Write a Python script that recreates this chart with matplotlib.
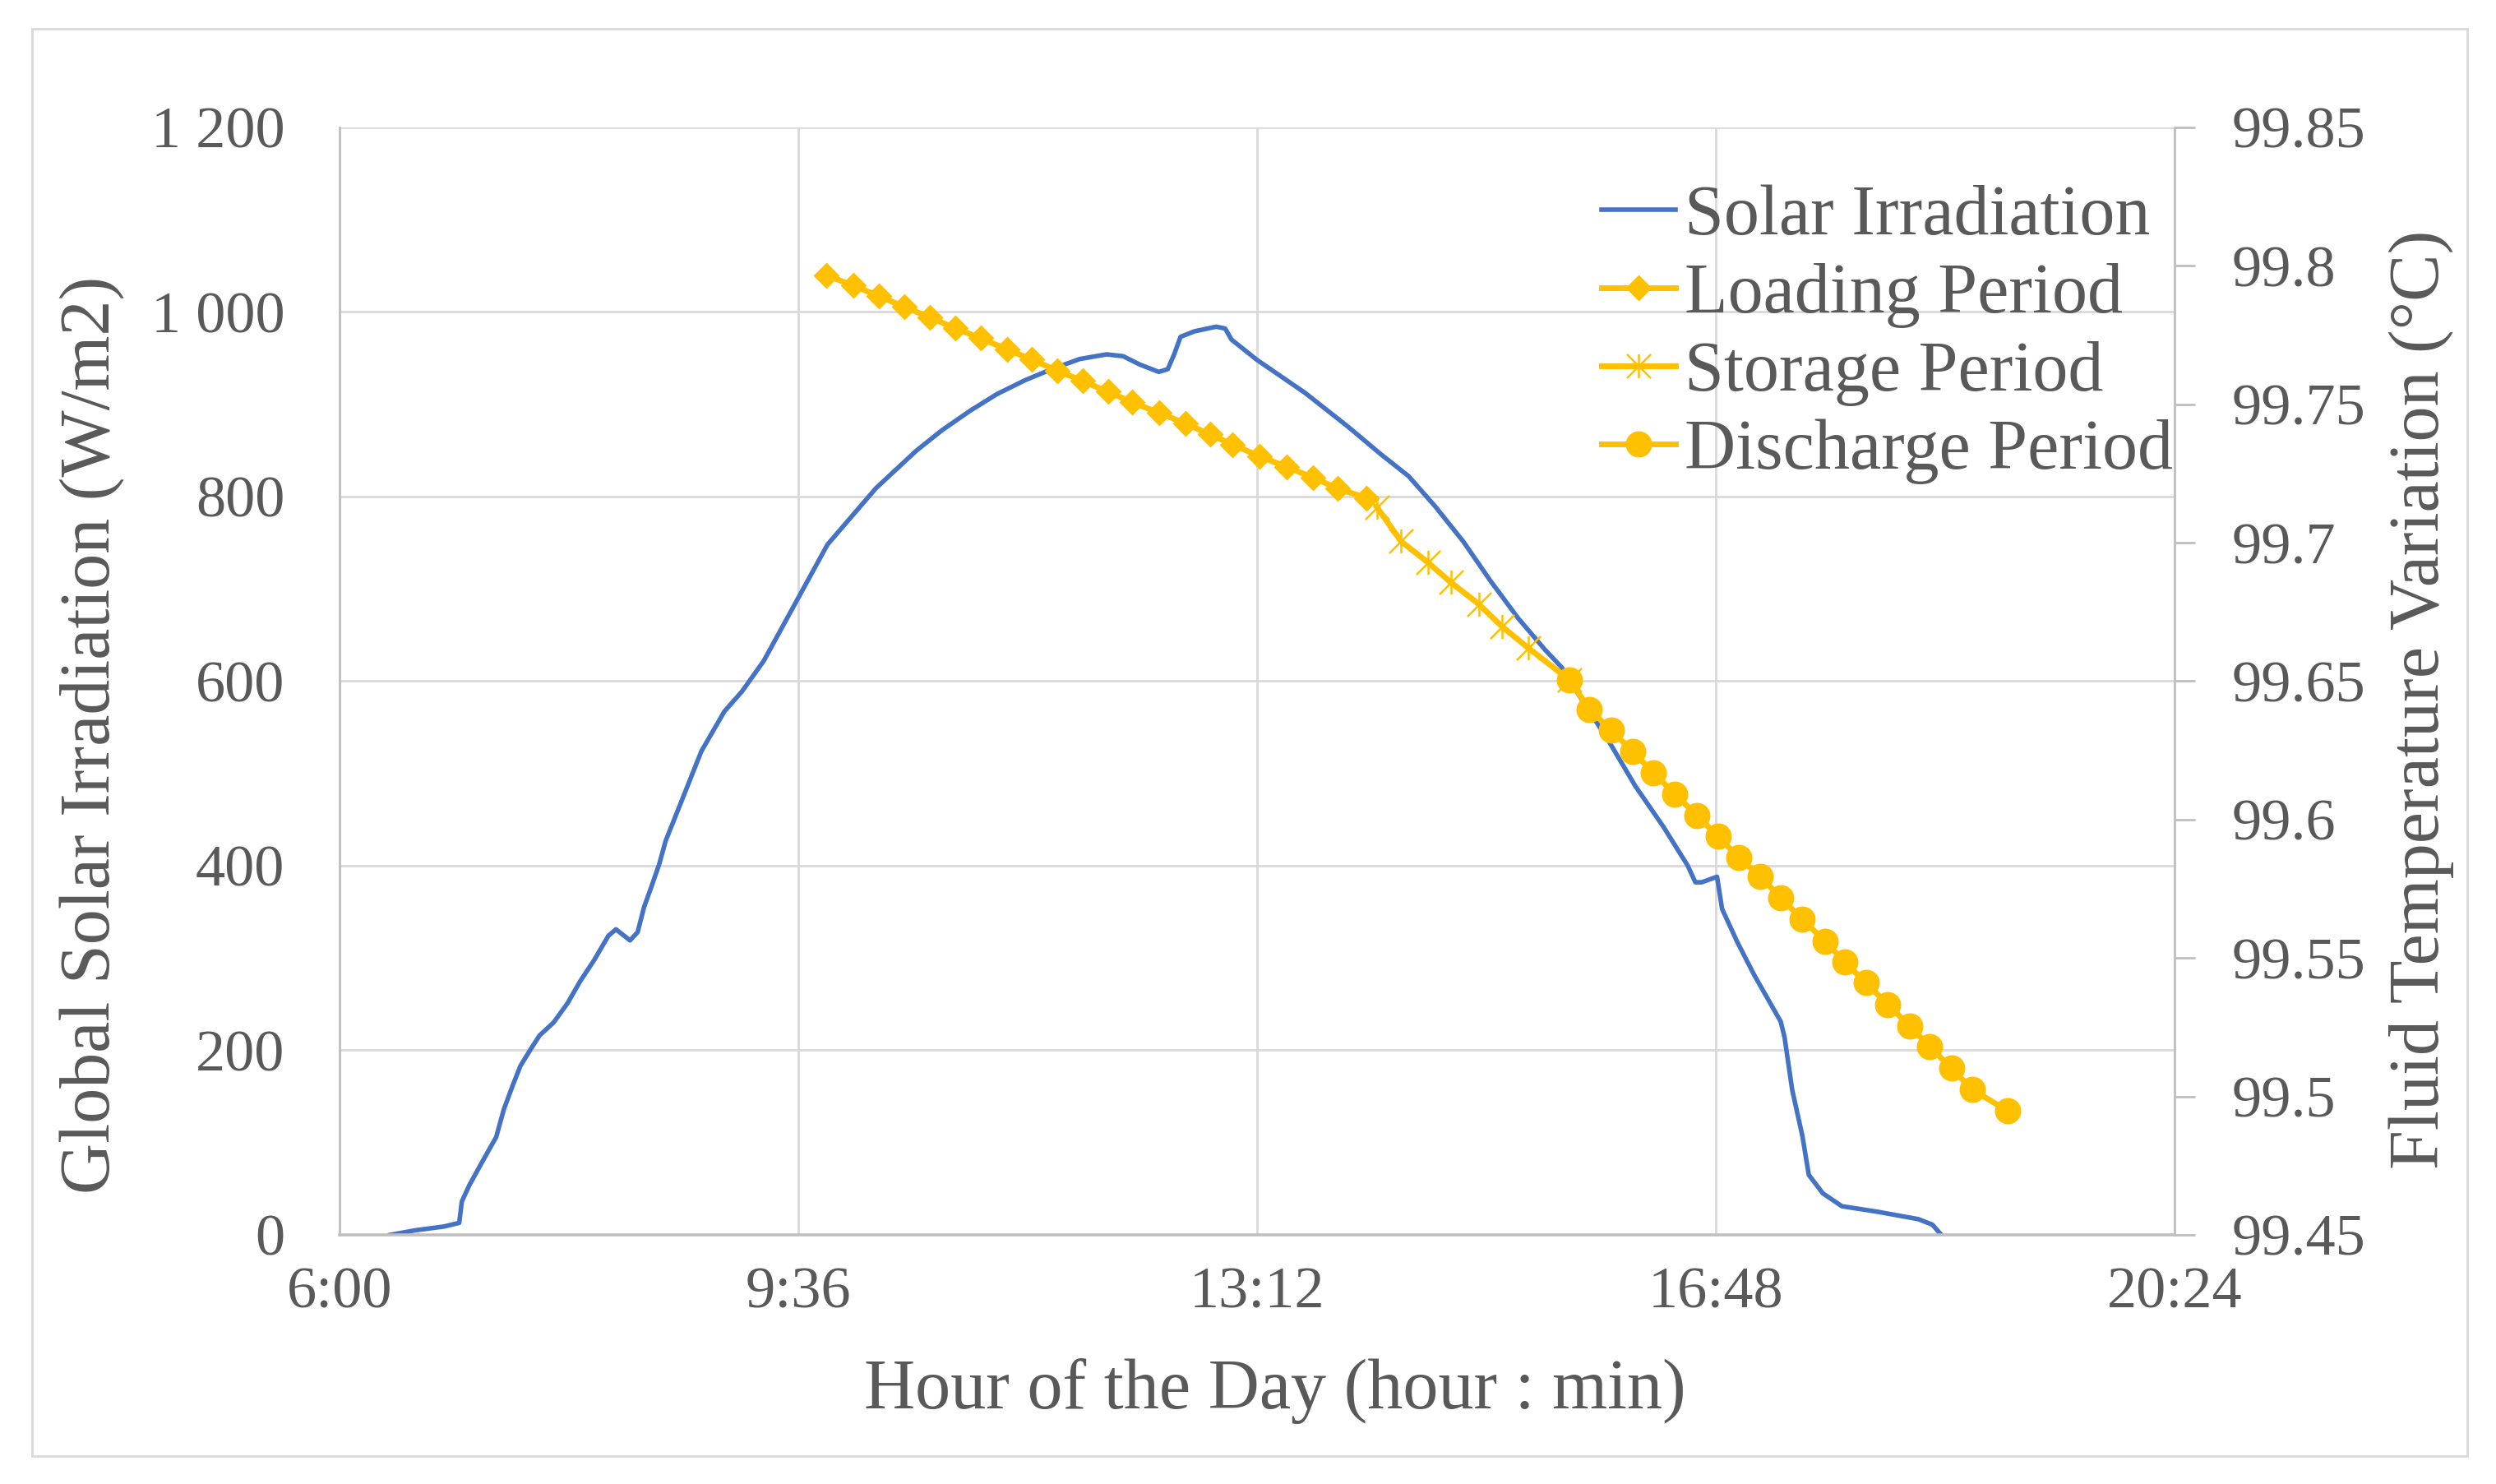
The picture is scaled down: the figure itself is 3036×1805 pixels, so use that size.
#graphique : irradiation solaire et temperature du fluide (2 axes)

import matplotlib
matplotlib.use("Agg")
import matplotlib.pyplot as plt
from matplotlib.path import Path
from matplotlib.patches import Rectangle

plt.rcParams['font.family'] = ['Liberation Serif', 'DejaVu Serif']

#------------- Valeurs --------------------------------------------------
# heure en heures decimales (9.6 = 9:36)

solar_h = [6.40, 6.60, 6.82, 6.94, 6.96, 7.02, 7.12, 7.23, 7.29, 7.36, 7.42, 7.50, 7.57, 7.68,
           7.79, 7.89, 8.00, 8.11, 8.17, 8.28, 8.34, 8.39, 8.45, 8.51, 8.56, 8.67, 8.84, 9.02,
           9.16, 9.33, 9.56, 9.83, 10.21, 10.53, 10.73, 10.95, 11.16, 11.38, 11.59, 11.81, 12.02,
           12.15, 12.28, 12.43, 12.50, 12.55, 12.60, 12.71, 12.88, 12.95, 13.00, 13.20, 13.58,
           13.92, 14.17, 14.39, 14.60, 14.82, 15.03, 15.25, 15.46, 15.59, 15.74, 15.96, 16.17,
           16.39, 16.58, 16.64, 16.69, 16.81, 16.85, 16.97, 17.10, 17.31, 17.34, 17.40, 17.48,
           17.53, 17.64, 17.79, 18.07, 18.39, 18.50, 18.57]
solar_w = [0, 5, 9, 13, 36, 54, 79, 106, 136, 162, 183, 201, 216, 230,
           251, 275, 298, 324, 331, 319, 328, 355, 378, 402, 427, 465, 524, 567,
           589, 622, 680, 748, 809, 850, 872, 893, 911, 926, 938, 949, 954,
           952, 943, 935, 938, 954, 973, 979, 984, 982, 970, 948, 912,
           875, 846, 822, 789, 751, 709, 668, 634, 615, 582, 535, 486,
           442, 400, 382, 382, 388, 353, 317, 282, 231, 214, 157, 107,
           65, 45, 31, 25, 17, 11, 0]

load_h = [9.82, 10.03, 10.23, 10.43, 10.63, 10.83, 11.03, 11.24, 11.43, 11.63, 11.83,
          12.03, 12.22, 12.43, 12.64, 12.83, 13.01, 13.22, 13.43, 13.64, 13.83, 14.06]
load_t = [99.7966, 99.7929, 99.7891, 99.7852, 99.7814, 99.7775, 99.7738, 99.7698, 99.7661,
          99.7622, 99.7584, 99.7545, 99.7507, 99.7469, 99.7430, 99.7391, 99.7354, 99.7312,
          99.7274, 99.7235, 99.7196, 99.7161]

store_h = [14.14, 14.33, 14.54, 14.72, 14.94, 15.12, 15.33, 15.65]
store_t = [99.7129, 99.7005, 99.6929, 99.6857, 99.6778, 99.6698, 99.6619, 99.6505]

dis_h = [15.65, 15.81, 15.98, 16.15, 16.31, 16.48, 16.65, 16.82, 16.98, 17.15, 17.31,
         17.48, 17.66, 17.81, 17.98, 18.15, 18.32, 18.48, 18.65, 18.81, 19.09]
dis_t = [99.6505, 99.6398, 99.6322, 99.6245, 99.6169, 99.6092, 99.6015, 99.5939, 99.5862,
         99.5795, 99.5717, 99.5639, 99.5560, 99.5486, 99.5410, 99.5332, 99.5255, 99.5179,
         99.5102, 99.5025, 99.4948]

x_ticks = [6, 9.6, 13.2, 16.8, 20.4]
y1_ticks = [0, 200, 400, 600, 800, 1000, 1200]
y2_ticks = [99.45, 99.5, 99.55, 99.6, 99.65, 99.7, 99.75, 99.8, 99.85]

bleu = '#4472C4'
jaune = '#FFC000'
gris_txt = '#595959'

# marqueur etoile facon Excel (x + trait vertical)
etoile = Path([(0, -1), (0, 1), (-1, -1), (1, 1), (-1, 1), (1, -1)],
              [Path.MOVETO, Path.LINETO] * 3)

#------------------ Figure -----------------------------------------------

fig = plt.figure(figsize=(15.18, 9.025), dpi=200)
ax = fig.add_axes([0.1360, 0.1679, 0.7352, 0.7463])

ax.plot(solar_h, solar_w, color=bleu, lw=2.0, label='Solar Irradiation')

ax2 = ax.twinx()
ax2.plot(load_h, load_t, color=jaune, lw=2.5, marker='D', ms=7.2, label='Loading Period')
ax2.plot(store_h, store_t, color=jaune, lw=2.5, marker=etoile, ms=10.5, mfc='none', mew=0.9,
         label='Storage Period')
ax2.plot(dis_h, dis_t, color=jaune, lw=2.5, marker='o', ms=10.5, label='Discharge Period')

ax.set_xlim(6, 20.4)
ax.set_ylim(0, 1200)
ax2.set_ylim(99.45, 99.85)

ax.set_xticks(x_ticks)
ax.set_xticklabels([f"{int(h)}:{int(round((h - int(h)) * 60)):02d}" for h in x_ticks])
ax.set_yticks(y1_ticks)
ax.set_yticklabels([f"{v:,}".replace(",", " ") for v in y1_ticks])
ax2.set_yticks(y2_ticks)
ax2.set_yticklabels([f"{v:.2f}".rstrip('0').rstrip('.') for v in y2_ticks])

#------------------ Quadrillage et axes ---------------------------------

ax.grid(color='#D9D9D9', linewidth=1.0)
ax.set_axisbelow(True)

ax.spines['top'].set_visible(False)
ax.spines['right'].set_visible(False)
ax.spines['left'].set_color('#BFBFBF')
ax.spines['left'].set_linewidth(1.0)
ax.spines['bottom'].set_color('#BFBFBF')
ax.spines['bottom'].set_linewidth(1.3)
ax2.spines['top'].set_visible(False)
ax2.spines['left'].set_visible(False)
ax2.spines['bottom'].set_visible(False)
ax2.spines['right'].set_color('#BFBFBF')
ax2.spines['right'].set_linewidth(1.0)

ax.tick_params(axis='x', length=0, pad=14, labelsize=26, labelcolor=gris_txt)
ax.tick_params(axis='y', length=0, pad=24, labelsize=26, labelcolor=gris_txt)
ax2.tick_params(axis='y', length=9, width=1.0, color='#BFBFBF', direction='out', pad=16,
                labelsize=26, labelcolor=gris_txt)

#--------------------- Titres ---------------------------------------------

ax.set_xlabel('Hour of the Day (hour : min)', fontsize=31, color=gris_txt, va='center')
ax.xaxis.set_label_coords(0.51, -0.141)
ax.set_ylabel('Global Solar Irradiation (W/m2)', fontsize=31, color=gris_txt, va='center')
ax.yaxis.set_label_coords(-0.1344, 0.4514)
ax2.set_ylabel('Fluid Temperature Variation (°C)', fontsize=31, color=gris_txt, va='center',
               rotation=90)
ax2.yaxis.set_label_coords(1.1344, 0.4833)

h1, l1 = ax.get_legend_handles_labels()
h2, l2 = ax2.get_legend_handles_labels()
leg = ax2.legend(h1 + h2, l1 + l2, loc='center left', bbox_to_anchor=(0.6416, 0.7745),
                 bbox_transform=fig.transFigure, frameon=False, fontsize=31,
                 handlelength=1.05, handletextpad=0.12, labelspacing=0.18,
                 borderpad=0, borderaxespad=0)
for t in leg.get_texts():
    t.set_color(gris_txt)

# cadre gris autour du graphique
fig.patches.append(Rectangle((0.01285, 0.01884), 0.9756, 0.9618, transform=fig.transFigure,
                             fill=False, edgecolor='#D9D9D9', linewidth=1.0))

#------------------ Sauvegarder --------------------------

plt.savefig("out.png", dpi=200)
